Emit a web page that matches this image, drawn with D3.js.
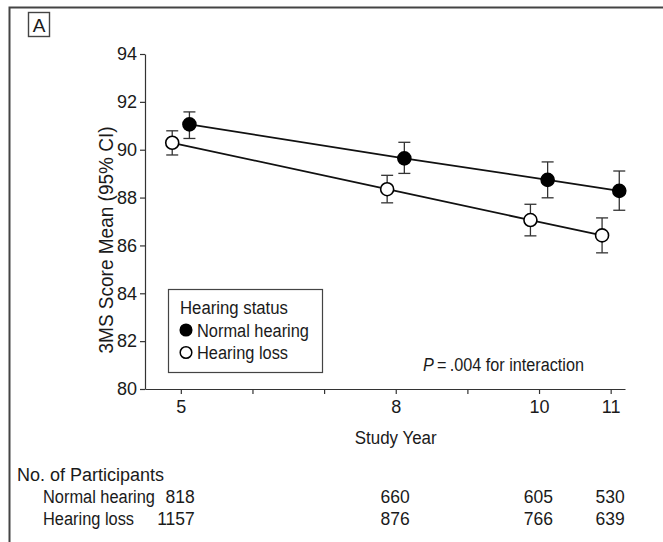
<!DOCTYPE html>
<html>
<head>
<meta charset="utf-8">
<script src="https://cdn.jsdelivr.net/npm/d3@7"></script>
<style>
  html, body { margin: 0; padding: 0; background: #fff; }
  svg { display: block; }
  text { font-family: "Liberation Sans", Arial, sans-serif; fill: #1a1a1a; }
</style>
</head>
<body>
<svg id="chart" width="663" height="542"></svg>
<script>
const years = [5, 8, 10, 11];
const normalMean = [91.06, 89.64, 88.74, 88.28];
const normalLo   = [90.47, 89.01, 87.99, 87.47];
const normalHi   = [91.58, 90.31, 89.49, 89.11];
const lossMean   = [90.29, 88.35, 87.06, 86.42];
const lossLo     = [89.78, 87.78, 86.40, 85.69];
const lossHi     = [90.79, 88.93, 87.72, 87.15];
const normalN = [818, 660, 605, 530];
const lossN   = [1157, 876, 766, 639];
const yTicks = [80, 82, 84, 86, 88, 90, 92, 94];
const xTicks = [5, 6, 7, 8, 9, 10, 11];
const xTickLabels = [5, 8, 10, 11];
const seriesNames = ["Normal hearing", "Hearing loss"];

const svg = d3.select("#chart");

// squeeze real text horizontally to mimic the condensed face of the original
function condense(sel, k) {
  sel.each(function () {
    const L = this.getComputedTextLength();
    d3.select(this).attr("textLength", L * k).attr("lengthAdjust", "spacingAndGlyphs");
  });
  return sel;
}

// outer frame (left and top border)
svg.append("path")
  .attr("d", "M9.5,542 V7.5 H663")
  .attr("fill", "none").attr("stroke", "#444").attr("stroke-width", 2);

// panel label
svg.append("rect").attr("x", 28.5).attr("y", 12.5).attr("width", 21).attr("height", 24)
  .attr("fill", "none").attr("stroke", "#444").attr("stroke-width", 1.4);
svg.append("text").attr("x", 39).attr("y", 31.5).attr("text-anchor", "middle")
  .attr("font-size", 19).text("A");

const x = d3.scaleLinear().domain([4.5, 11.2]).range([145, 625]);
const y = d3.scaleLinear().domain([80, 94]).range([389, 54]);

// y axis
const yAxis = svg.append("g").attr("transform", "translate(145,0)")
  .call(d3.axisLeft(y).tickValues(yTicks).tickSize(5).tickSizeOuter(0).tickPadding(3));
yAxis.selectAll("path, line").attr("stroke", "#333").attr("stroke-width", 1.2);
yAxis.selectAll("text").attr("font-size", 18).attr("fill", "#1a1a1a")
  .style("font-family", '"Liberation Sans", Arial, sans-serif');

// x axis
const xAxis = svg.append("g").attr("transform", "translate(0,389)")
  .call(d3.axisBottom(x).tickValues(xTicks).tickSize(5).tickSizeOuter(0).tickPadding(6)
    .tickFormat(d => xTickLabels.includes(d) ? d : ""));
xAxis.selectAll("path, line").attr("stroke", "#333").attr("stroke-width", 1.2);
xAxis.selectAll("text").attr("font-size", 18).attr("fill", "#1a1a1a")
  .style("font-family", '"Liberation Sans", Arial, sans-serif');

// axis titles
condense(svg.append("text").attr("transform", "translate(113,240) rotate(-90)")
  .attr("text-anchor", "middle").attr("font-size", 20).text("3MS Score Mean (95% CI)"), 0.95);
condense(svg.append("text").attr("x", x(8)).attr("y", 444).attr("text-anchor", "middle")
  .attr("font-size", 18).text("Study Year"), 0.94);

// series
const offset = [0.12, -0.12];
const series = [
  { name: seriesNames[0], mean: normalMean, lo: normalLo, hi: normalHi, fill: "#000", off: offset[0] },
  { name: seriesNames[1], mean: lossMean, lo: lossLo, hi: lossHi, fill: "#fff", off: offset[1] }
];

const line = d3.line().x(d => x(d.year)).y(d => y(d.v));
series.forEach(s => {
  const pts = years.map((yr, i) => ({ year: yr + s.off, v: s.mean[i], lo: s.lo[i], hi: s.hi[i] }));
  const g = svg.append("g");
  g.append("path").datum(pts).attr("d", line)
    .attr("fill", "none").attr("stroke", "#111").attr("stroke-width", 1.8);
  g.selectAll(".eb").data(pts).enter().append("line")
    .attr("x1", d => x(d.year)).attr("x2", d => x(d.year))
    .attr("y1", d => y(d.lo)).attr("y2", d => y(d.hi))
    .attr("stroke", "#333").attr("stroke-width", 1.3);
  g.selectAll(".capt").data(pts).enter().append("line")
    .attr("x1", d => x(d.year) - 6).attr("x2", d => x(d.year) + 6)
    .attr("y1", d => y(d.hi)).attr("y2", d => y(d.hi))
    .attr("stroke", "#333").attr("stroke-width", 1.3);
  g.selectAll(".capb").data(pts).enter().append("line")
    .attr("x1", d => x(d.year) - 6).attr("x2", d => x(d.year) + 6)
    .attr("y1", d => y(d.lo)).attr("y2", d => y(d.lo))
    .attr("stroke", "#333").attr("stroke-width", 1.3);
  g.selectAll("circle").data(pts).enter().append("circle")
    .attr("cx", d => x(d.year)).attr("cy", d => y(d.v)).attr("r", 6.5)
    .attr("fill", s.fill).attr("stroke", "#000").attr("stroke-width", 1.6);
});

// legend
const lg = svg.append("g");
lg.append("rect").attr("x", 168.5).attr("y", 289.5).attr("width", 154).attr("height", 83)
  .attr("fill", "#fff").attr("stroke", "#444").attr("stroke-width", 1.2);
condense(lg.append("text").attr("x", 180).attr("y", 314).attr("font-size", 18).text("Hearing status"), 0.93);
series.forEach((s, i) => {
  const cy = 330 + i * 22.5;
  lg.append("circle").attr("cx", 186).attr("cy", cy).attr("r", 5.8)
    .attr("fill", s.fill).attr("stroke", "#000").attr("stroke-width", 1.5);
  condense(lg.append("text").attr("x", 197).attr("y", cy + 6.5).attr("font-size", 18).text(s.name), 0.91);
});

// P value annotation
const pt = svg.append("text").attr("x", 423).attr("y", 371).attr("font-size", 18);
pt.append("tspan").attr("font-style", "italic").text("P");
pt.append("tspan").text("\u2009=\u2009.004 for interaction");
condense(pt, 0.9);

// participants table
svg.append("text").attr("x", 17).attr("y", 481).attr("font-size", 18).text("No. of Participants");
const rows = [{ label: seriesNames[0], n: normalN }, { label: seriesNames[1], n: lossN }];
rows.forEach((r, i) => {
  const ty = 503 + i * 22;
  condense(svg.append("text").attr("x", 43).attr("y", ty).attr("font-size", 18).text(r.label), 0.91);
  svg.selectAll(null).data(years).enter().append("text")
    .attr("x", (d) => x(d) + 14).attr("y", ty).attr("text-anchor", "end")
    .attr("font-size", 17.5).text((d, j) => r.n[j]);
});
</script>
</body>
</html>
